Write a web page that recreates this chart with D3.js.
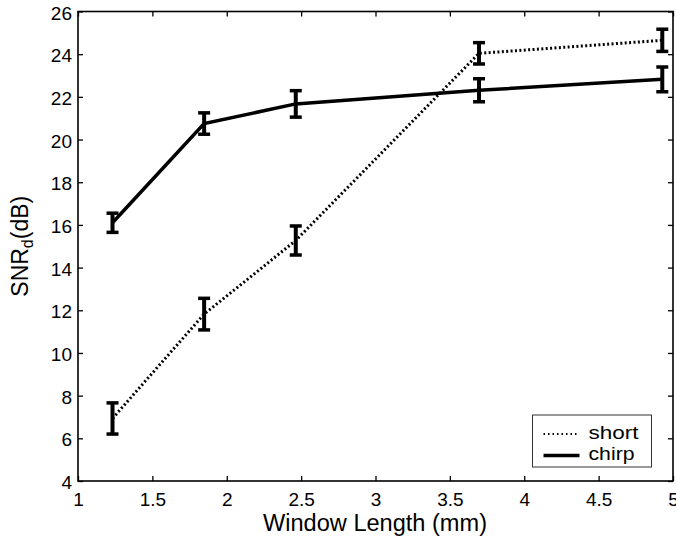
<!DOCTYPE html>
<html>
<head>
<meta charset="utf-8">
<script src="https://cdn.jsdelivr.net/npm/d3@7"></script>
<style>
	body { margin: 0; background: #fff; }
	svg text { font-family: 'Liberation Sans', Arial, Helvetica, sans-serif; fill: #000; }
</style>
</head>
<body>
<div id="chart"></div>
<script>
let W = 676
let H = 539

// data
let windowLength = [1.232, 1.848, 2.464, 3.696, 4.928]
let shortMean = [6.93, 11.82, 15.27, 24.04, 24.65]
let shortErr = [0.73, 0.74, 0.68, 0.5, 0.52]
let chirpMean = [16.1, 20.75, 21.67, 22.31, 22.82]
let chirpErr = [0.45, 0.5, 0.62, 0.54, 0.58]
let xTicks = [1, 1.5, 2, 2.5, 3, 3.5, 4, 4.5, 5]
let yTicks = [4, 6, 8, 10, 12, 14, 16, 18, 20, 22, 24, 26]
let seriesNames = ['short', 'chirp']

let plotL = 78
let plotR = 673
let plotT = 11.5
let plotB = 481

let svg = d3
	.select('#chart')
	.append('svg')
	.attr('width', W)
	.attr('height', H)

let x = d3.scaleLinear().domain([1, 5]).range([plotL, plotR])
let y = d3.scaleLinear().domain([4, 26]).range([plotB, plotT])

let styleAxis = g => {
	g.select('.domain').remove()
	g.selectAll('.tick line').attr('stroke', '#000').attr('stroke-width', 1.3)
	g.selectAll('.tick text').attr('font-size', 19).attr('font-family', null)
}

// bottom + left axes with labels, ticks pointing in
svg.append('g')
	.attr('transform', `translate(0,${plotB})`)
	.call(d3.axisBottom(x).tickValues(xTicks).tickSize(-5).tickPadding(11.5).tickFormat(d3.format('')))
	.call(styleAxis)

svg.append('g')
	.attr('transform', `translate(${plotL},0)`)
	.call(d3.axisLeft(y).tickValues(yTicks).tickSize(-5).tickPadding(6).tickFormat(d3.format('')))
	.call(styleAxis)
	.selectAll('.tick text').attr('dy', '0.4em')

// mirrored ticks on top and right
svg.append('g')
	.attr('transform', `translate(0,${plotT})`)
	.call(d3.axisTop(x).tickValues(xTicks).tickSize(-5).tickFormat(''))
	.call(styleAxis)

svg.append('g')
	.attr('transform', `translate(${plotR},0)`)
	.call(d3.axisRight(y).tickValues(yTicks).tickSize(-5).tickFormat(''))
	.call(styleAxis)

// frame
svg.append('rect')
	.attr('x', plotL)
	.attr('y', plotT)
	.attr('width', plotR - plotL)
	.attr('height', plotB - plotT)
	.attr('fill', 'none')
	.attr('stroke', '#000')
	.attr('stroke-width', 1.6)

let line = d3.line()
	.x(d => x(d[0]))
	.y(d => y(d[1]))

let series = [
	{ name: seriesNames[0], mean: shortMean, err: shortErr, dash: '2,2.4', width: 3, labelW: 50 },
	{ name: seriesNames[1], mean: chirpMean, err: chirpErr, dash: null, width: 3.5, labelW: 46 },
]

series.forEach(s => {
	let pts = windowLength.map((w, i) => [w, s.mean[i]])
	svg.append('path')
		.attr('d', line(pts))
		.attr('fill', 'none')
		.attr('stroke', '#000')
		.attr('stroke-width', s.width)
		.attr('stroke-dasharray', s.dash)

	// error bars
	let cap = 6
	windowLength.forEach((w, i) => {
		let lo = y(s.mean[i] - s.err[i])
		let hi = y(s.mean[i] + s.err[i])
		let cx = x(w)
		let g = svg.append('g').attr('stroke', '#000').attr('fill', 'none')
		g.append('line')
			.attr('x1', cx).attr('x2', cx)
			.attr('y1', lo).attr('y2', hi)
			.attr('stroke-width', 4)
		g.append('line')
			.attr('x1', cx - cap).attr('x2', cx + cap)
			.attr('y1', lo).attr('y2', lo)
			.attr('stroke-width', 3.5)
		g.append('line')
			.attr('x1', cx - cap).attr('x2', cx + cap)
			.attr('y1', hi).attr('y2', hi)
			.attr('stroke-width', 3.5)
	})
})

// legend
let legend = svg.append('g').attr('transform', 'translate(532.5,415)')
legend.append('rect')
	.attr('width', 119)
	.attr('height', 52)
	.attr('fill', '#fff')
	.attr('stroke', '#333')
	.attr('stroke-width', 1)

series.forEach((s, i) => {
	let ly = 19 + i * 21.5
	legend.append('line')
		.attr('x1', 11).attr('x2', 47)
		.attr('y1', ly).attr('y2', ly)
		.attr('stroke', '#000')
		.attr('stroke-width', s.dash ? 2 : 3.5)
		.attr('stroke-dasharray', s.dash ? '1.5,3' : null)
	legend.append('text')
		.attr('x', 56)
		.attr('y', ly + 4.5)
		.attr('font-size', 19)
		.attr('textLength', s.labelW)
		.attr('lengthAdjust', 'spacingAndGlyphs')
		.text(s.name)
})

// axis labels
svg.append('text')
	.attr('x', 375)
	.attr('y', 531)
	.attr('text-anchor', 'middle')
	.attr('font-size', 23)
	.attr('textLength', 224)
	.attr('lengthAdjust', 'spacingAndGlyphs')
	.text('Window Length (mm)')

let yl = svg.append('text')
	.attr('transform', `translate(28,${(plotT + plotB) / 2}) rotate(-90)`)
	.attr('text-anchor', 'middle')
	.attr('font-size', 23)
yl.append('tspan').text('SNR')
yl.append('tspan').attr('font-size', 16).attr('dy', 5).text('d')
yl.append('tspan').attr('dy', -5).text('(dB)')
</script>
</body>
</html>
